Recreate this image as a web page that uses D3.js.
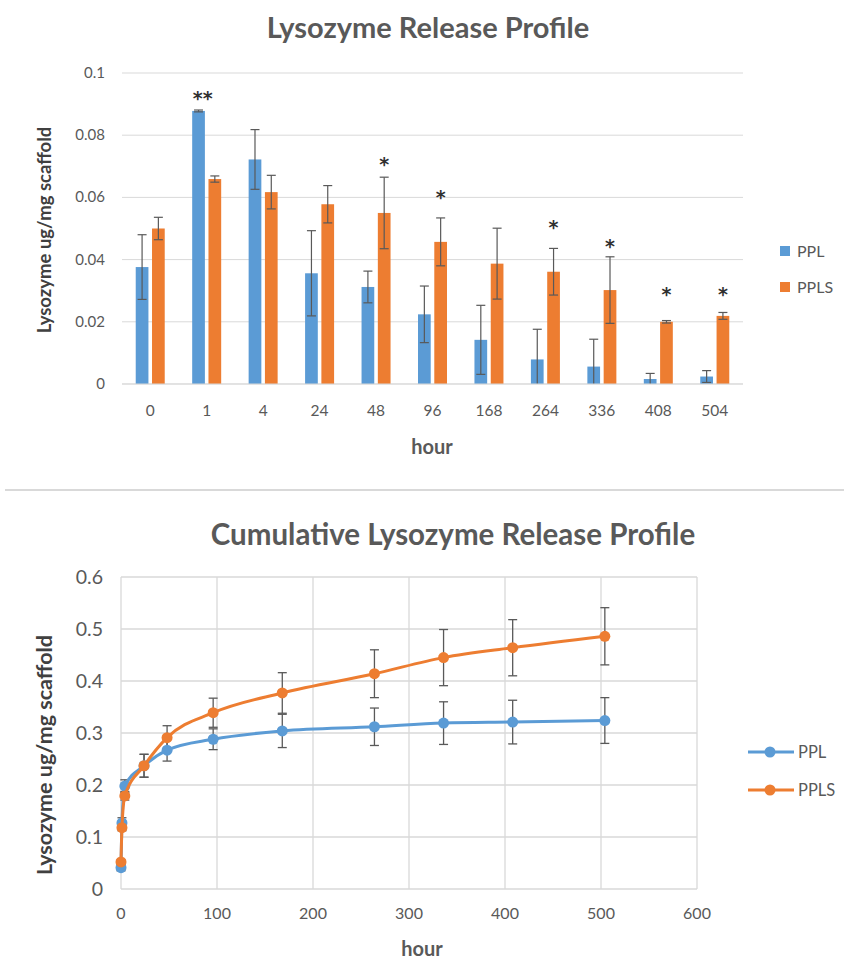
<!DOCTYPE html>
<html><head><meta charset="utf-8">
<script src="https://cdn.jsdelivr.net/npm/d3@7/dist/d3.min.js"></script>
<style>body{margin:0;background:#fff}svg{display:block}text{font-family:Lato,"Open Sans",sans-serif}</style>
</head><body>
<script>
// ---- Top chart data ----
const categories = ["0","1","4","24","48","96","168","264","336","408","504"];
const pplRelease    = [0.0376,0.0878,0.0722,0.0356,0.0312,0.0224,0.0142,0.0079,0.0056,0.0016,0.0024];
const pplReleaseErr = [0.0104,0.0003,0.0096,0.0137,0.0051,0.0091,0.0111,0.0097,0.0088,0.0018,0.0019];
const pplsRelease    = [0.0500,0.0659,0.0617,0.0578,0.0550,0.0457,0.0387,0.0361,0.0302,0.0200,0.0219];
const pplsReleaseErr = [0.0036,0.0010,0.0054,0.0060,0.0115,0.0077,0.0114,0.0075,0.0107,0.0004,0.0011];
const starLabels = ["","**","","","*","*","","*","*","*","*"];
const starValues = [0,0.0937,0,0,0.0725,0.0618,0,0.0520,0.0460,0.0304,0.0304];
const topYTicks = [0,0.02,0.04,0.06,0.08,0.1];
const seriesNames = ["PPL","PPLS"];
const colors = {PPL:"#5B9BD5", PPLS:"#ED7D31"};

// ---- Bottom chart data ----
const hours = [0,1,4,24,48,96,168,264,336,408,504];
const pplCum    = [0.041,0.127,0.198,0.237,0.267,0.288,0.304,0.312,0.319,0.321,0.324];
const pplCumErr = [0.006,0.010,0.012,0.022,0.021,0.020,0.032,0.036,0.041,0.042,0.044];
const pplsCum    = [0.052,0.118,0.179,0.237,0.291,0.339,0.377,0.414,0.445,0.464,0.486];
const pplsCumErr = [0.004,0.006,0.008,0.022,0.023,0.028,0.039,0.046,0.054,0.054,0.055];
const botYTicks = [0,0.1,0.2,0.3,0.4,0.5,0.6];
const botXTicks = [0,100,200,300,400,500,600];

const W = 844, H = 960;
const svg = d3.select("body").append("svg").attr("width", W).attr("height", H);
const grid = "#d9d9d9", txt = "#595959", errC = "#595959";

// ================= TOP CHART =================
svg.append("text").attr("x", 428).attr("y", 38).attr("text-anchor","middle")
  .attr("font-size", 29).attr("font-weight","bold").attr("fill", txt).text("Lysozyme Release Profile");

const x0 = d3.scaleBand().domain(categories).range([122, 743]).padding(0);
const x1 = d3.scaleBand().domain(seriesNames).range([-14.5, 14.5]).paddingInner(0.22);
const yT = d3.scaleLinear().domain([0, 0.1]).range([384, 73]);

const gTop = svg.append("g");
gTop.selectAll("line.grid").data(topYTicks).join("line")
  .attr("x1", 122).attr("x2", 743).attr("y1", d => yT(d)).attr("y2", d => yT(d))
  .attr("stroke", grid).attr("stroke-width", 1);
gTop.selectAll("text.yt").data(topYTicks).join("text")
  .attr("x", 105).attr("y", d => yT(d) + 5).attr("text-anchor","end")
  .attr("font-size", 15).attr("fill", txt).text(d => d === 0 ? "0" : d3.format("")(+d.toFixed(2)));
gTop.selectAll("text.xt").data(categories).join("text")
  .attr("x", d => x0(d) + x0.bandwidth()/2).attr("y", 416).attr("text-anchor","middle")
  .attr("font-size", 15.5).attr("fill", txt).text(d => d);

const topSeries = [
  {name:"PPL", vals:pplRelease, errs:pplReleaseErr},
  {name:"PPLS", vals:pplsRelease, errs:pplsReleaseErr}
];
topSeries.forEach(s => {
  const data = categories.map((c,i) => ({c, v:s.vals[i], e:s.errs[i]}));
  const cx = d => x0(d.c) + x0.bandwidth()/2 + x1(s.name);
  gTop.append("g").selectAll("rect").data(data).join("rect")
    .attr("x", cx).attr("width", x1.bandwidth())
    .attr("y", d => yT(d.v)).attr("height", d => yT(0) - yT(d.v))
    .attr("fill", colors[s.name]);
  const eg = gTop.append("g").attr("stroke", errC).attr("stroke-width", 1.2);
  const mid = d => cx(d) + x1.bandwidth()/2;
  eg.selectAll("line.v").data(data).join("line")
    .attr("x1", mid).attr("x2", mid)
    .attr("y1", d => yT(d.v + d.e)).attr("y2", d => yT(Math.max(0, d.v - d.e)));
  eg.selectAll("line.t").data(data).join("line")
    .attr("x1", d => mid(d) - 4.5).attr("x2", d => mid(d) + 4.5)
    .attr("y1", d => yT(d.v + d.e)).attr("y2", d => yT(d.v + d.e));
  eg.selectAll("line.b").data(data.filter(d => d.v - d.e > 0)).join("line")
    .attr("x1", d => mid(d) - 4.5).attr("x2", d => mid(d) + 4.5)
    .attr("y1", d => yT(d.v - d.e)).attr("y2", d => yT(d.v - d.e));
});
gTop.append("line").attr("x1",122).attr("x2",743).attr("y1",yT(0)).attr("y2",yT(0)).attr("stroke",grid).attr("stroke-width",1);

// significance stars
const starData = categories.map((c,i)=>({c, s:starLabels[i], v:starValues[i]})).filter(d=>d.s);
gTop.selectAll("text.star").data(starData).join("text")
  .attr("x", d => d.s === "**" ? x0(d.c) + x0.bandwidth()/2 - 4 : x0(d.c) + x0.bandwidth()/2 + x1("PPLS") + x1.bandwidth()/2)
  .attr("y", d => yT(d.v) + 12).attr("text-anchor","middle")
  .style("font-family","'DejaVu Sans',sans-serif")
  .attr("font-size", 19).attr("font-weight","bold").attr("fill", "#303030").text(d => d.s);

svg.append("text").attr("x", 432).attr("y", 454).attr("text-anchor","middle")
  .attr("font-size", 20).attr("font-weight","bold").attr("fill", txt).text("hour");
svg.append("text").attr("transform","translate(51,230) rotate(-90)").attr("text-anchor","middle")
  .attr("font-size", 18.5).attr("font-weight","bold").attr("fill", "#404040").text("Lysozyme ug/mg scaffold");

seriesNames.forEach((n,i) => {
  const ly = 251 + i*36;
  svg.append("rect").attr("x",780).attr("y",ly-5).attr("width",10).attr("height",10).attr("fill",colors[n]);
  svg.append("text").attr("x",797).attr("y",ly+6).attr("font-size",16).attr("fill",txt).text(n);
});

// divider
svg.append("line").attr("x1",5).attr("x2",844).attr("y1",490).attr("y2",490).attr("stroke","#d9d9d9").attr("stroke-width",2);

// ================= BOTTOM CHART =================
svg.append("text").attr("x", 453).attr("y", 545).attr("text-anchor","middle")
  .attr("font-size", 29.5).attr("font-weight","bold").attr("fill", txt).text("Cumulative Lysozyme Release Profile");

const xB = d3.scaleLinear().domain([0,600]).range([121, 697]);
const yB = d3.scaleLinear().domain([0,0.6]).range([889, 577]);
const gB = svg.append("g");
gB.selectAll("line.hg").data(botYTicks).join("line")
  .attr("x1", xB(0)).attr("x2", xB(600)).attr("y1", d=>yB(d)).attr("y2", d=>yB(d))
  .attr("stroke", grid).attr("stroke-width", 1.3);
gB.selectAll("line.vg").data(botXTicks).join("line")
  .attr("x1", d=>xB(d)).attr("x2", d=>xB(d)).attr("y1", yB(0)).attr("y2", yB(0.6))
  .attr("stroke", grid).attr("stroke-width", 1.3);
gB.selectAll("text.yt").data(botYTicks).join("text")
  .attr("x", 103).attr("y", d=>yB(d)+7).attr("text-anchor","end")
  .attr("font-size", 19.5).attr("fill", txt).text(d => d === 0 ? "0" : d.toFixed(1));
gB.selectAll("text.xt").data(botXTicks).join("text")
  .attr("x", d=>xB(d)).attr("y", 919).attr("text-anchor","middle")
  .attr("font-size", 16).attr("fill", txt).text(d => d);

const botSeries = [
  {name:"PPL", vals:pplCum, errs:pplCumErr},
  {name:"PPLS", vals:pplsCum, errs:pplsCumErr}
];
const line = d3.line().x(d=>xB(d.h)).y(d=>yB(d.v)).curve(d3.curveMonotoneX);
botSeries.forEach(s => {
  const data = hours.map((h,i)=>({h, v:s.vals[i], e:s.errs[i]}));
  const eg = gB.append("g").attr("stroke", errC).attr("stroke-width", 1.3);
  eg.selectAll("line.v").data(data).join("line")
    .attr("x1", d=>xB(d.h)).attr("x2", d=>xB(d.h)).attr("y1", d=>yB(d.v+d.e)).attr("y2", d=>yB(d.v-d.e));
  [1,-1].forEach(sg => {
    eg.selectAll("line.c"+sg).data(data).join("line")
      .attr("x1", d=>xB(d.h)-4.5).attr("x2", d=>xB(d.h)+4.5)
      .attr("y1", d=>yB(d.v+sg*d.e)).attr("y2", d=>yB(d.v+sg*d.e));
  });
});
botSeries.forEach(s => {
  const data = hours.map((h,i)=>({h, v:s.vals[i]}));
  gB.append("path").datum(data).attr("d", line).attr("fill","none")
    .attr("stroke", colors[s.name]).attr("stroke-width", 3);
  gB.append("g").selectAll("circle").data(data).join("circle")
    .attr("cx", d=>xB(d.h)).attr("cy", d=>yB(d.v)).attr("r", 5.5).attr("fill", colors[s.name]);
});

svg.append("text").attr("x", 422).attr("y", 956).attr("text-anchor","middle")
  .attr("font-size", 20).attr("font-weight","bold").attr("fill", txt).text("hour");
svg.append("text").attr("transform","translate(52,755) rotate(-90)").attr("text-anchor","middle")
  .attr("font-size", 21.5).attr("font-weight","bold").attr("fill", "#404040").text("Lysozyme ug/mg scaffold");

seriesNames.forEach((n,i) => {
  const ly = 752 + i*38;
  svg.append("line").attr("x1",748).attr("x2",794).attr("y1",ly).attr("y2",ly).attr("stroke",colors[n]).attr("stroke-width",3);
  svg.append("circle").attr("cx",770).attr("cy",ly).attr("r",5.5).attr("fill",colors[n]);
  svg.append("text").attr("x",798).attr("y",ly+6).attr("font-size",16.5).attr("fill",txt).text(n);
});
</script>
</body></html>
